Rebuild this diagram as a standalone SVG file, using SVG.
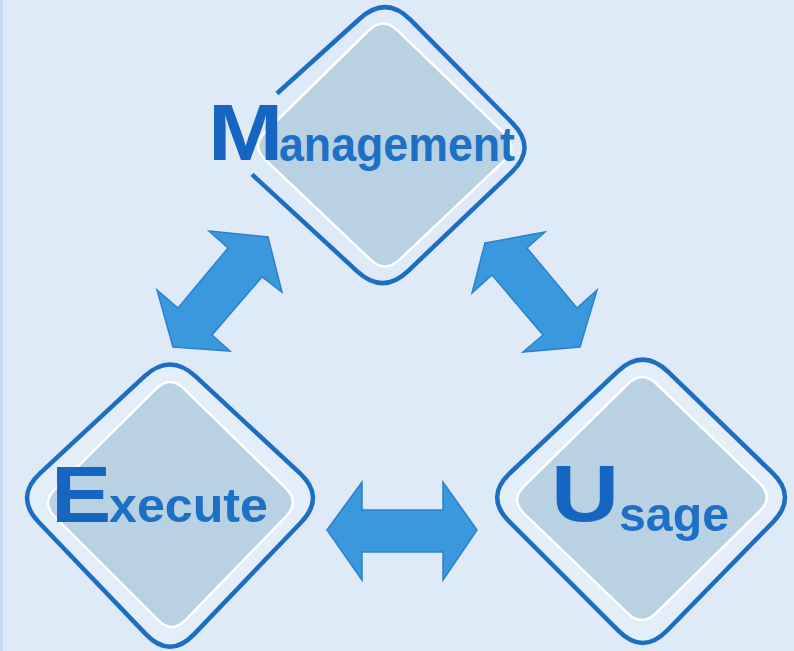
<svg xmlns="http://www.w3.org/2000/svg" width="794" height="651" viewBox="0 0 794 651">
<style>
.bg{fill:#deeaf7}
.outer{fill:#e3eef9;stroke:#1c6ec2;stroke-width:4.5;stroke-linejoin:round}
.outline{fill:none;stroke:#1c6ec2;stroke-width:4.5;stroke-linecap:butt}
.inner{fill:#b9d2e3;stroke:#ffffff;stroke-width:2.5}
.arrow{fill:#3a98dd;stroke:#2e80cf;stroke-width:1.5;stroke-linejoin:miter}
.big{font-family:"Liberation Sans",Arial,sans-serif;font-weight:bold;font-size:80px;fill:#1666c1}
.small{font-family:"Liberation Sans",Arial,sans-serif;font-weight:bold;font-size:48px;fill:#1e6fc6}
</style>
<rect class="bg" x="0" y="0" width="794" height="651"/>
<rect x="0" y="0" width="3" height="651" fill="#c6dcf1"/>

<g id="management">
  <path d="M368.7,30.5 Q383,16.5 397.4,30.4 L504.1,133.1 Q518.5,147 504,160.8 L399.5,259.7 Q385,273.5 370.5,259.7 L265.5,159.8 Q251,146 265.3,132 Z" fill="none" stroke="none"/>
  <path class="outline" d="M277,93.5 L360,18.5 Q386,-5 410.6,19.9 L512.4,123.1 Q537,148 511.7,172.2 L408.3,270.8 Q383,295 357.2,271.3 L252,174.4"/>
  <path class="inner" d="M368.7,30.5 Q383,16.5 397.4,30.4 L504.1,133.1 Q518.5,147 504,160.8 L399.5,259.7 Q385,273.5 370.5,259.7 L265.5,159.8 Q251,146 265.3,132 Z"/>
  <text class="big" transform="translate(208,160) scale(1.13,1)">M</text>
  <text class="small" x="279" y="161" font-size="50" textLength="236" lengthAdjust="spacingAndGlyphs">anagement</text>
</g>

<g id="execute">
  <path class="outer" d="M144.4,376.4 Q170,352.6 195.6,376.4 L299.8,473.2 Q325.4,497 301.2,522.3 L194.2,634.1 Q170,659.4 145.8,634.1 L38.8,522.3 Q14.6,497 40.2,473.2 Z"/>
  <path class="inner" d="M155.8,389.1 Q170,375 184.3,389 L285.7,488 Q300,502 286.1,516.4 L185.9,619.6 Q172,634 157.9,619.9 L55.1,517.1 Q41,503 55.2,488.9 Z"/>
  <text class="big" transform="translate(51,522) scale(1.13,1)">E</text>
  <text class="small" x="109" y="522" textLength="159" lengthAdjust="spacingAndGlyphs">xecute</text>
</g>

<g id="usage">
  <path class="outer" d="M617.5,371.6 Q643,347.6 668.2,371.9 L772.2,472.7 Q797.4,497 773,522.1 L667.4,630.3 Q643,655.4 618.3,630.7 L509.3,521.7 Q484.6,497 510.1,473 Z"/>
  <path class="inner" d="M627.8,384 Q642,370 656.4,383.9 L759.6,483.1 Q774,497 759.8,511 L656.2,613 Q642,627 627.6,613.1 L524.4,513.9 Q510,500 524.2,486 Z"/>
  <text class="big" transform="translate(551,521) scale(1.18,1)">U</text>
  <text class="small" x="619" y="531" textLength="110" lengthAdjust="spacingAndGlyphs">sage</text>
</g>

<g id="connectors">
  <polygon class="arrow" points="268,237 282,292 262,277 212,335 230,351 173,347 157,290 178,308 228,248 209,231"/>
  <polygon class="arrow" points="485,243 545,232 527,248 577,308 597,290 580,347 523,352 543,335 492,275 472,293"/>
  <polygon class="arrow" points="327,530 362,482 362,510 443,510 443,482 477,530 443,580 443,552 362,552 362,580"/>
</g>
</svg>
